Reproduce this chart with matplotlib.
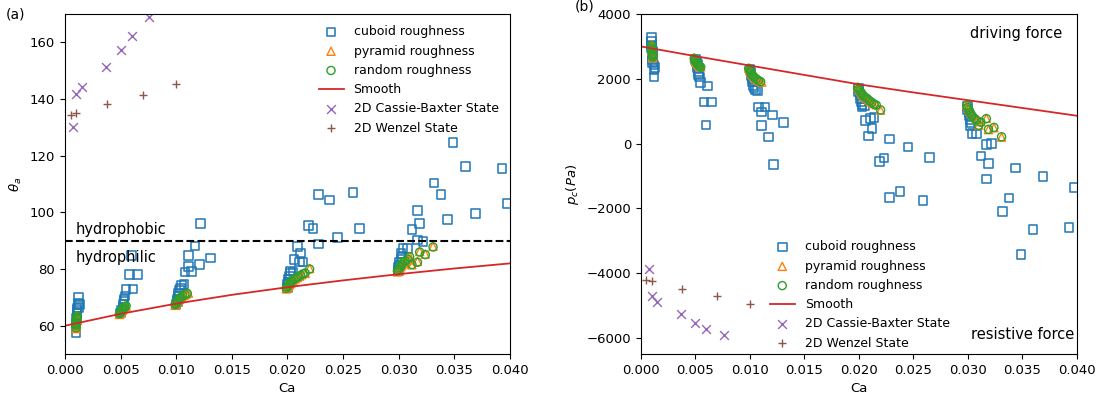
import numpy as np
import matplotlib
matplotlib.use("Agg")
import matplotlib.pyplot as plt

# ---- data ----
# cuboid roughness: Ca, theta_a, p_c
cub_ca = [0.0010, 0.0010, 0.0010, 0.0010, 0.0011, 0.0011, 0.0011, 0.0012, 0.0012, 0.0012, 0.0011, 0.0013,
          0.0050, 0.0051, 0.0052, 0.0052, 0.0053, 0.0053, 0.0055, 0.0061, 0.0058, 0.0065, 0.0060, 0.0054,
          0.0100, 0.0101, 0.0101, 0.0102, 0.0102, 0.0103, 0.0104, 0.0105, 0.0107, 0.0108, 0.0114, 0.0111,
          0.0121, 0.0131, 0.0111, 0.0117, 0.0122,
          0.0200, 0.0200, 0.0201, 0.0201, 0.0202, 0.0203, 0.0205, 0.0203, 0.0206, 0.0211, 0.0214, 0.0212,
          0.0209, 0.0228, 0.0245, 0.0219, 0.0223, 0.0265, 0.0228, 0.0238, 0.0259,
          0.0300, 0.0300, 0.0301, 0.0301, 0.0302, 0.0303, 0.0302, 0.0304, 0.0308, 0.0317, 0.0322, 0.0312,
          0.0319, 0.0317, 0.0332, 0.0338, 0.0344, 0.0349, 0.0360, 0.0369, 0.0393, 0.0398]
cub_theta = [57.6, 59.5, 61.0, 62.5, 63.5, 64.5, 65.5, 66.5, 67.8, 70.2, 66.0, 67.5,
             64.5, 65.5, 66.5, 67.5, 68.5, 69.4, 72.7, 73.0, 78.0, 78.0, 84.7, 70.5,
             67.5, 68.5, 69.5, 70.5, 71.5, 72.5, 73.3, 74.2, 74.5, 78.9, 79.1, 80.9,
             81.7, 83.9, 84.7, 88.2, 96.1,
             73.5, 74.5, 75.5, 76.5, 77.5, 78.5, 79.0, 79.3, 83.4, 82.5, 82.5, 85.6,
             88.0, 88.8, 91.1, 95.3, 94.3, 94.3, 106.4, 104.4, 107.0,
             79.5, 80.5, 81.5, 82.5, 83.5, 84.5, 85.5, 87.3, 87.3, 90.2, 89.8, 93.9,
             96.0, 100.6, 110.4, 106.3, 97.4, 124.7, 116.2, 99.7, 115.4, 103.1]
cub_pc = [3270, 3150, 3050, 2950, 2850, 2750, 2600, 2420, 2270, 2050, 2500, 2350,
          2600, 2520, 2450, 2350, 2220, 2130, 1880, 1780, 1290, 1290, 570, 2050,
          2300, 2200, 2100, 2000, 1900, 1800, 1720, 1650, 1640, 1130, 1130, 980,
          880, 650, 550, 200, -640,
          1700, 1600, 1500, 1400, 1300, 1200, 1160, 1130, 710, 770, 800, 460,
          230, 140, -110, -550, -440, -430, -1670, -1480, -1750,
          1150, 1050, 950, 850, 750, 650, 550, 310, 300, -20, 10, -390,
          -620, -1090, -2090, -1680, -750, -3420, -2650, -1010, -2590, -1360]

# pyramid roughness
pyr_ca = [0.0010, 0.0010, 0.0010, 0.0010, 0.0011, 0.0011, 0.0011, 0.0011, 0.0010, 0.0011,
          0.0049, 0.0050, 0.0050, 0.0051, 0.0051, 0.0052, 0.0053, 0.0054, 0.0055,
          0.0099, 0.0100, 0.0100, 0.0101, 0.0102, 0.0103, 0.0104, 0.0105, 0.0107, 0.0109, 0.0111,
          0.0199, 0.0200, 0.0201, 0.0202, 0.0203, 0.0204, 0.0205, 0.0207, 0.0209, 0.0211, 0.0213,
          0.0216, 0.0220,
          0.0299, 0.0300, 0.0301, 0.0302, 0.0303, 0.0305, 0.0307, 0.0309, 0.0312, 0.0310, 0.0317,
          0.0319, 0.0324, 0.0331]
pyr_theta = [59.0, 59.8, 60.5, 61.2, 61.8, 62.4, 63.0, 63.6, 60.0, 62.0,
             64.0, 64.4, 64.8, 65.2, 65.5, 65.9, 66.2, 66.6, 66.9,
             67.2, 67.6, 68.0, 68.5, 69.0, 69.4, 69.8, 70.2, 70.7, 71.2, 71.5,
             73.0, 73.5, 74.0, 74.5, 75.0, 75.5, 76.0, 76.5, 77.0, 77.5, 78.0,
             78.5, 80.2,
             79.0, 79.6, 80.2, 80.8, 81.4, 82.0, 82.6, 83.2, 81.5, 84.5, 82.7,
             86.2, 85.3, 88.0]
pyr_pc = [3050, 2980, 2920, 2860, 2800, 2750, 2700, 2650, 2950, 2780,
          2650, 2610, 2570, 2530, 2500, 2460, 2430, 2400, 2370,
          2330, 2290, 2250, 2200, 2150, 2110, 2070, 2030, 1980, 1930, 1900,
          1750, 1700, 1650, 1600, 1550, 1500, 1450, 1400, 1350, 1290, 1240,
          1200, 1030,
          1200, 1130, 1060, 990, 930, 870, 800, 740, 680, 570, 780,
          430, 490, 200]

# random roughness
rnd_ca = [0.0010, 0.0010, 0.0010, 0.0010, 0.0011, 0.0011, 0.0011, 0.0010, 0.0011,
          0.0049, 0.0050, 0.0050, 0.0051, 0.0052, 0.0052, 0.0053, 0.0054, 0.0055,
          0.0099, 0.0100, 0.0101, 0.0101, 0.0102, 0.0103, 0.0104, 0.0106, 0.0108, 0.0110,
          0.0199, 0.0200, 0.0201, 0.0202, 0.0203, 0.0204, 0.0206, 0.0208, 0.0210, 0.0212, 0.0214,
          0.0216, 0.0220,
          0.0299, 0.0300, 0.0301, 0.0302, 0.0303, 0.0304, 0.0306, 0.0308, 0.0310, 0.0312, 0.0317,
          0.0319, 0.0324, 0.0331]
rnd_theta = [59.3, 60.2, 61.0, 61.6, 62.2, 62.9, 63.5, 60.6, 62.5,
             64.2, 64.6, 65.0, 65.4, 65.7, 66.0, 66.3, 66.7, 67.0,
             67.4, 67.8, 68.3, 68.8, 69.2, 69.6, 70.0, 70.5, 71.0, 71.4,
             73.2, 73.8, 74.3, 74.8, 75.3, 75.8, 76.3, 76.8, 77.3, 77.8, 78.3,
             78.6, 80.0,
             79.3, 79.9, 80.5, 81.1, 81.7, 82.3, 82.9, 83.5, 84.3, 81.6, 82.4,
             86.0, 85.1, 87.8]
rnd_pc = [3020, 2950, 2890, 2830, 2780, 2720, 2670, 2900, 2760,
          2630, 2590, 2550, 2510, 2480, 2450, 2420, 2390, 2360,
          2320, 2270, 2230, 2180, 2130, 2090, 2050, 2000, 1950, 1910,
          1730, 1680, 1630, 1580, 1530, 1480, 1430, 1380, 1320, 1270, 1220,
          1190, 1040,
          1180, 1110, 1040, 970, 910, 850, 780, 720, 560, 660, 770,
          440, 500, 210]

# smooth surface
smooth_ca = [0.0, 0.005, 0.01, 0.015, 0.02, 0.025, 0.03, 0.035, 0.04]
smooth_theta = [60.0, 64.2, 67.8, 70.9, 73.6, 76.0, 78.2, 80.2, 82.0]
smooth_pc = [3000, 2700, 2410, 2120, 1830, 1580, 1340, 1100, 860]

# 2D Cassie-Baxter and Wenzel states
cb_ca = [0.00075, 0.0010, 0.0015, 0.0037, 0.0050, 0.0060, 0.0076]
cb_theta = [130.0, 141.8, 144.1, 151.2, 157.3, 162.3, 168.8]
cb_pc = [-3870, -4720, -4890, -5270, -5540, -5740, -5900]

wz_ca = [0.0005, 0.0010, 0.0038, 0.0070, 0.0100]
wz_theta = [134.3, 135.0, 138.1, 141.4, 145.4]
wz_pc = [-4200, -4250, -4490, -4700, -4960]

plt.rcParams['font.size'] = 9.5

fig = plt.figure(figsize=(11.01, 4.01), dpi=100)
ax1 = fig.add_axes([0.059, 0.117, 0.404, 0.848])
ax2 = fig.add_axes([0.582, 0.117, 0.396, 0.848])


def draw(ax, yc, yp, yr, ys, ycb, ywz):
    ax.scatter(cub_ca, yc, s=38, marker='s', facecolors='none', edgecolors='C0',
               linewidths=1.1, label='cuboid roughness')
    ax.scatter(pyr_ca, yp, s=34, marker='^', facecolors='none', edgecolors='C1',
               linewidths=1.0, label='pyramid roughness')
    ax.scatter(rnd_ca, yr, s=34, marker='o', facecolors='none', edgecolors='C2',
               linewidths=1.0, label='random roughness')
    ax.plot(smooth_ca, ys, color='C3', lw=1.3, label='Smooth')
    ax.scatter(cb_ca, ycb, s=40, marker='x', color='C4', linewidths=1.0,
               label='2D Cassie-Baxter State')
    ax.scatter(wz_ca, ywz, s=40, marker='+', color='C5', linewidths=1.0,
               label='2D Wenzel State')
    ax.set_xlim(0, 0.04)
    ax.set_xticks(np.arange(0, 0.0401, 0.005))
    ax.set_xlabel('Ca')


# (a) advancing contact angle
draw(ax1, cub_theta, pyr_theta, rnd_theta, smooth_theta, cb_theta, wz_theta)
ax1.axhline(90, color='black', ls='--', lw=1.5)
ax1.text(0.001, 92.5, 'hydrophobic', fontsize=10.5)
ax1.text(0.001, 82.5, 'hydrophilic', fontsize=10.5)
ax1.set_ylim(50, 170)
ax1.set_yticks([60, 80, 100, 120, 140, 160])
ax1.set_ylabel(r'$\theta_a$')
ax1.legend(loc='upper right', frameon=False, fontsize=9)
fig.text(0.005, 0.955, '(a)', fontsize=10)

# (b) capillary pressure
draw(ax2, cub_pc, pyr_pc, rnd_pc, smooth_pc, cb_pc, wz_pc)
ax2.set_ylim(-6500, 4000)
ax2.set_yticks([-6000, -4000, -2000, 0, 2000, 4000])
ax2.set_ylabel(r'$p_c(Pa)$')
ax2.text(0.0387, 3400, 'driving force', ha='right', va='center', fontsize=10.5)
ax2.text(0.0398, -5900, 'resistive force', ha='right', va='center', fontsize=10.5)
ax2.legend(loc='lower left', bbox_to_anchor=(0.27, -0.02), frameon=False, fontsize=9)
fig.text(0.522, 0.975, '(b)', fontsize=10)

fig.savefig('out.png', dpi=100)
